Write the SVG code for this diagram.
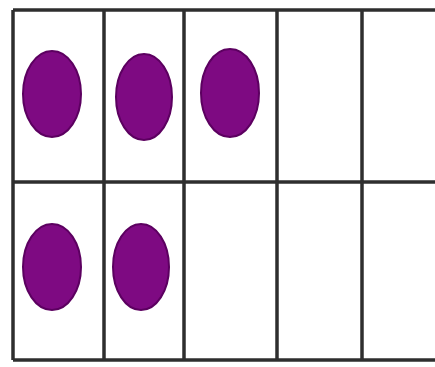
<svg xmlns="http://www.w3.org/2000/svg" width="435" height="367" viewBox="0 0 435 367">
<style>
.ln{stroke:#2e2e2e;stroke-width:3.5;fill:none}
.dot{fill:#7e0a82;stroke:#5c0060;stroke-width:2}
</style>
<rect width="435" height="367" fill="#fff"/>
<g id="frame">
<line class="ln" x1="13" y1="10" x2="435" y2="10"/>
<line class="ln" x1="13" y1="182" x2="435" y2="182"/>
<line class="ln" x1="13" y1="360" x2="435" y2="360"/>
<line class="ln" x1="13" y1="10" x2="13" y2="360"/>
<line class="ln" x1="104" y1="10" x2="104" y2="360"/>
<line class="ln" x1="184" y1="10" x2="184" y2="360"/>
<line class="ln" x1="277" y1="10" x2="277" y2="360"/>
<line class="ln" x1="362" y1="10" x2="362" y2="360"/>
</g>
<g id="dot1"><ellipse class="dot" cx="52" cy="94" rx="29" ry="43"/></g>
<g id="dot2"><ellipse class="dot" cx="144" cy="97" rx="28" ry="43"/></g>
<g id="dot3"><ellipse class="dot" cx="230" cy="93" rx="29" ry="44"/></g>
<g id="dot4"><ellipse class="dot" cx="52" cy="267" rx="29" ry="43"/></g>
<g id="dot5"><ellipse class="dot" cx="141" cy="267" rx="28" ry="43"/></g>
</svg>
